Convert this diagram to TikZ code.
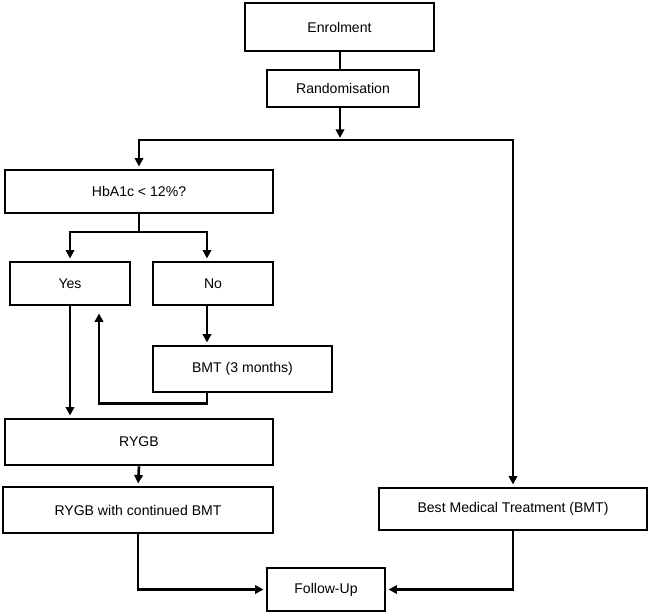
\documentclass[tikz,border=0pt]{standalone}
\usepackage{fontspec}
\setmainfont{Liberation Sans}
\usetikzlibrary{arrows.meta}

\begin{document}
\begin{tikzpicture}[x=0.025cm, y=-0.025cm,
    box/.style={draw, line width=2pt, rectangle, align=center, inner sep=2pt},
    link/.style={line width=1.9pt},
    arr/.style={link, -{Triangle[length=6pt, width=6pt]}, shorten >=1.5pt}]
    \useasboundingbox (0,0) rectangle (650,613);

    % Einschluss und Randomisierung
    \node[box, minimum width=4.725cm, minimum height=1.2cm] (enrol) at (339.5,27) {Enrolment};
    \node[box, minimum width=3.8cm, minimum height=0.925cm] (rand) at (343,88.5) {Randomisation};

    % Linker Arm
    \node[box, minimum width=6.7cm, minimum height=1.075cm] (hba) at (139,191.5) {HbA1c < 12\%?};
    \node[box, minimum width=3cm, minimum height=1.075cm] (yes) at (70,283.5) {Yes};
    \node[box, minimum width=3cm, minimum height=1.075cm] (no) at (213,283.5) {No};
    \node[box, minimum width=4.475cm, minimum height=1.15cm] (bmtthree) at (242.5,369) {BMT (3 months)};
    \node[box, minimum width=6.7cm, minimum height=1.15cm] (rygb) at (139,442) {RYGB};
    \node[box, minimum width=6.75cm, minimum height=1.15cm] (rygbbmt) at (138,510) {RYGB with continued BMT};

    % Rechter Arm
    \node[box, minimum width=6.7cm, minimum height=1.05cm] (bmt) at (513,509) {Best Medical Treatment (BMT)};

    % Nachbeobachtung
    \node[box, minimum width=2.95cm, minimum height=1.075cm] (follow) at (326,589.5) {Follow-Up};

    % Verzweigungspunkte
    \coordinate (split) at (340,140);
    \coordinate (fork) at (139,232);

    % Pfeile oben
    \draw[link] (enrol.south -| split) -- (rand.north -| split);
    \draw[arr] (rand.south -| split) -- (split);
    \draw[arr] (split) -| (hba.north);
    \draw[arr] (split) -| (bmt.north);

    % Pfeile HbA1c
    \draw[link] (hba.south) -- (fork);
    \draw[arr] (fork) -| (yes.north);
    \draw[arr] (fork) -| ([xshift=-0.15cm]no.north);
    \draw[arr] ([xshift=-0.15cm]no.south) -- ([xshift=-0.15cm]no.south |- bmtthree.north);
    \draw[arr, shorten >=5pt] ([xshift=-0.15cm]no.south |- bmtthree.south) -- ++(0,10) -| ([xshift=0.725cm]yes.south);
    \draw[arr] (yes.south) -- (yes.south |- rygb.north);
    \draw[arr] (rygb.south) -- (rygbbmt.north);

    % Zusammenfuehrung
    \draw[arr] (rygbbmt.south) |- (follow.west);
    \draw[arr] (bmt.south) |- (follow.east);
\end{tikzpicture}
\end{document}
